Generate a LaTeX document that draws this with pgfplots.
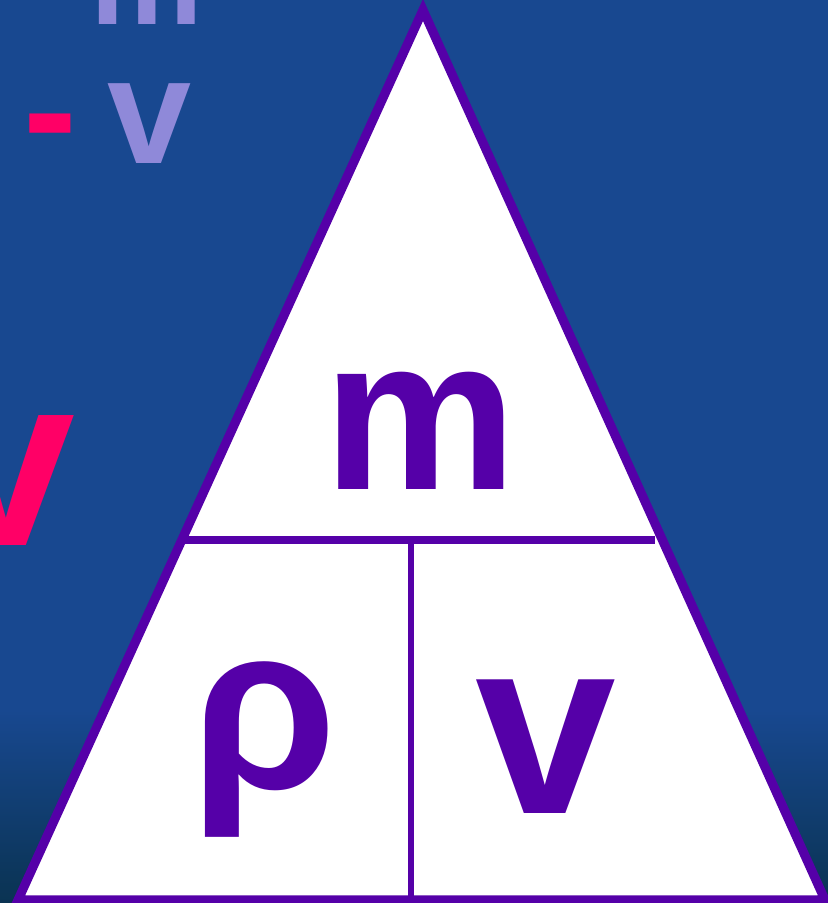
\documentclass[border=0pt]{standalone}
\usepackage{pgfplots}
\pgfplotsset{compat=1.18}
\usepackage{fontspec}
\setmainfont{Liberation Sans}
\definecolor{bgblue}{HTML}{184890}
\definecolor{bgdark}{HTML}{0A3352}
\definecolor{tripurple}{HTML}{5500A8}
\definecolor{lilac}{HTML}{8F89D9}
\definecolor{pinkred}{HTML}{FF0066}
\begin{document}
\begin{tikzpicture}
\begin{axis}[width=8.28cm,height=9.03cm,scale only axis,
  xmin=0,xmax=828,ymin=0,ymax=903,y dir=reverse,
  axis lines=none,clip=true]
% background
\addplot[draw=none,fill=bgblue] coordinates {(0,0)(828,0)(828,903)(0,903)} -- cycle;
\addplot[draw=none,top color=bgblue,bottom color=bgdark] coordinates {(0,710)(828,710)(828,903)(0,903)} -- cycle;
% triangle
\addplot[draw=tripurple,line width=2.6pt,fill=white,line join=miter] coordinates {(423,10)(825,900)(18,900)} -- cycle;
\addplot[draw=tripurple,line width=2.1pt] coordinates {(185,540)(655,540)};
\addplot[draw=tripurple,line width=1.9pt] coordinates {(411,540)(411,900)};
% letters in triangle
\node[anchor=base,text=tripurple,font=\fontsize{62}{66}\selectfont\bfseries] at (axis cs:420,489) {m};
\node[anchor=base,text=tripurple,font=\fontsize{67}{70}\selectfont\bfseries] at (axis cs:264,788) {ρ};
\node[anchor=base,text=tripurple,font=\fontsize{72}{76}\selectfont\bfseries] at (axis cs:546,813) {v};
% left side texts
\node[anchor=base,text=lilac,font=\fontsize{36}{40}\selectfont\bfseries] at (axis cs:147,25) {m};
\node[anchor=base,text=lilac,font=\fontsize{43}{46}\selectfont\bfseries] at (axis cs:150,164) {v};
\node[anchor=base,text=pinkred,font=\fontsize{46}{48}\selectfont\bfseries] at (axis cs:50,165) {-};
\node[anchor=base east,inner sep=0pt,text=pinkred,font=\fontsize{70}{72}\selectfont\bfseries] at (axis cs:76,545) {v};
\end{axis}
\end{tikzpicture}
\end{document}
